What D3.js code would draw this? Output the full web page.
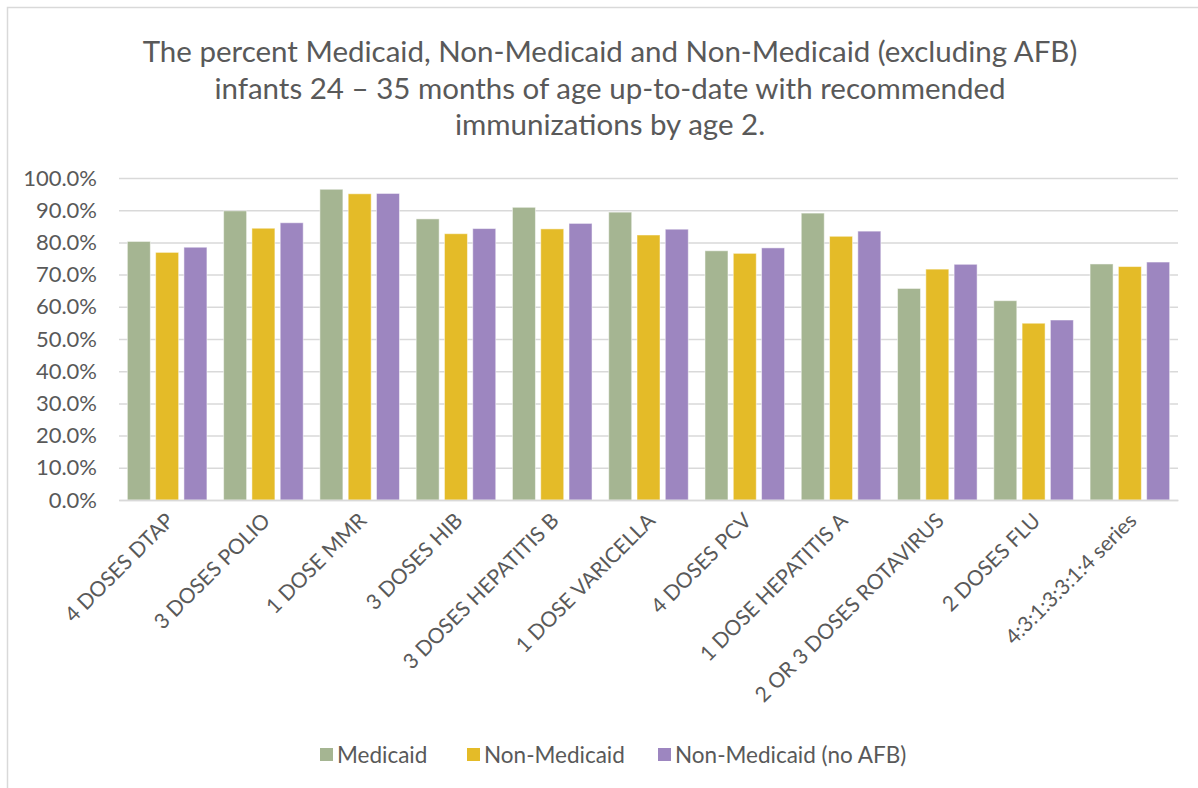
<!DOCTYPE html>
<html>
<head>
<meta charset="utf-8">
<script src="https://cdn.jsdelivr.net/npm/d3@7"></script>
<style>
  body { margin: 0; background: #fff; }
  text { font-family: Lato, "Open Sans", sans-serif; fill: #595959; }
</style>
</head>
<body>
<div class="chart"></div>
<script>
// Chart data
var categories = ["4 DOSES DTAP", "3 DOSES POLIO", "1 DOSE MMR", "3 DOSES HIB",
  "3 DOSES HEPATITIS B", "1 DOSE VARICELLA", "4 DOSES PCV", "1 DOSE HEPATITIS A",
  "2 OR 3 DOSES ROTAVIRUS", "2 DOSES FLU", "4:3:1:3:3:1:4 series"];
var medicaid = [80.3, 89.8, 96.5, 87.3, 90.9, 89.4, 77.4, 89.1, 65.7, 61.9, 73.3];
var nonMedicaid = [76.9, 84.4, 95.1, 82.7, 84.2, 82.3, 76.6, 81.9, 71.7, 54.9, 72.5];
var nonMedicaidNoAfb = [78.5, 86.1, 95.2, 84.3, 85.9, 84.1, 78.3, 83.5, 73.2, 55.9, 73.9];
var seriesNames = ["Medicaid", "Non-Medicaid", "Non-Medicaid (no AFB)"];
var seriesColors = ["#a5b592", "#e4bb28", "#9d86c0"];
var yTicks = [0, 10, 20, 30, 40, 50, 60, 70, 80, 90, 100];
var titleLines = ["The percent Medicaid, Non-Medicaid and Non-Medicaid (excluding AFB)",
  "infants 24 \u2013 35 months of age up-to-date with recommended",
  "immunizations by age 2."];

var svgWidth = 1198;
var svgHeight = 788;

var plot = { left: 119, right: 1178, top: 178, bottom: 500 };

var svg = d3.select(".chart")
  .append("svg")
  .attr("width", svgWidth)
  .attr("height", svgHeight);

// chart border (only top and left visible in the reference)
svg.append("rect")
  .attr("x", 7.5)
  .attr("y", 7.5)
  .attr("width", 1400)
  .attr("height", 1000)
  .attr("fill", "none")
  .attr("stroke", "#d9d9d9")
  .attr("stroke-width", 1.5);

// title
svg.append("g").selectAll("text")
  .data(titleLines)
  .enter()
  .append("text")
  .attr("x", 610)
  .attr("y", function(d, i) { return 62 + i * 36.5; })
  .attr("text-anchor", "middle")
  .style("font-size", "29.5px")
  .text(function(d) { return d; });

var x0 = d3.scaleBand()
  .domain(categories)
  .range([plot.left, plot.right])
  .padding(0);

var x1 = d3.scaleBand()
  .domain(seriesNames)
  .range([0, x0.bandwidth()])
  .paddingInner(0.187)
  .paddingOuter(0.295);

var y = d3.scaleLinear()
  .domain([0, 100])
  .range([plot.bottom, plot.top]);

// y axis with gridlines
var yAxis = svg.append("g")
  .attr("transform", "translate(" + plot.left + ",0)")
  .call(d3.axisLeft(y)
    .tickValues(yTicks)
    .tickFormat(function(d) { return d.toFixed(1) + "%"; })
    .tickSize(-(plot.right - plot.left))
    .tickPadding(22));
yAxis.select(".domain").remove();
yAxis.selectAll(".tick line").attr("stroke", "#d9d9d9").attr("stroke-width", 1.5);
yAxis.selectAll(".tick text").style("font-size", "22px").attr("fill", "#595959");

// bars
var seriesValues = [medicaid, nonMedicaid, nonMedicaidNoAfb];
var rows = categories.map(function(c, i) {
  return seriesNames.map(function(s, j) {
    return { cat: c, series: s, value: seriesValues[j][i], color: seriesColors[j] };
  });
});

svg.append("g").selectAll("g")
  .data(rows)
  .enter()
  .append("g")
  .attr("transform", function(d) { return "translate(" + x0(d[0].cat) + ",0)"; })
  .selectAll("rect")
  .data(function(d) { return d; })
  .enter()
  .append("rect")
  .attr("x", function(d) { return x1(d.series); })
  .attr("y", function(d) { return y(d.value); })
  .attr("width", x1.bandwidth())
  .attr("height", function(d) { return y(0) - y(d.value); })
  .attr("fill", function(d) { return d.color; })
  .attr("stroke", "#ffffff")
  .attr("stroke-opacity", 0.5)
  .attr("stroke-width", 1);

// x axis
var xAxis = svg.append("g")
  .attr("transform", "translate(0," + plot.bottom + ")")
  .call(d3.axisBottom(x0).tickSize(0).tickPadding(0));
xAxis.select(".domain").attr("stroke", "#d9d9d9").attr("stroke-width", 1.5);
xAxis.selectAll(".tick text")
  .style("font-size", "21px")
  .attr("fill", "#595959")
  .attr("text-anchor", "end")
  .attr("dy", "0")
  .attr("transform", "translate(8,22) rotate(-45)");

// legend
var legendX = [320, 467, 658];
var legend = svg.append("g").selectAll("g")
  .data(seriesNames)
  .enter()
  .append("g")
  .attr("transform", function(d, i) { return "translate(" + legendX[i] + ",755)"; });
legend.append("rect")
  .attr("x", 0)
  .attr("y", -7)
  .attr("width", 13)
  .attr("height", 13)
  .attr("fill", function(d, i) { return seriesColors[i]; });
legend.append("text")
  .attr("x", 17)
  .attr("y", 8)
  .style("font-size", "22.5px")
  .text(function(d) { return d; });
</script>
</body>
</html>
